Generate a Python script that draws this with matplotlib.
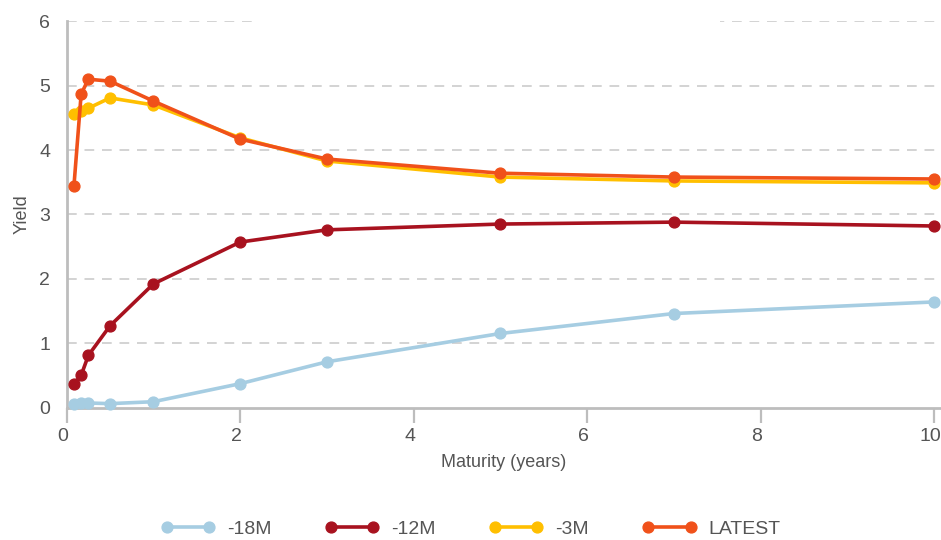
import matplotlib
matplotlib.use("Agg")
import matplotlib.pyplot as plt
from matplotlib.patches import Rectangle
from matplotlib.transforms import ScaledTranslation

plt.rcParams['font.family'] = ['Liberation Sans', 'DejaVu Sans']

# Maturities in years: 1M, 2M, 3M, 6M, 1Y, 2Y, 3Y, 5Y, 7Y, 10Y
maturity = [1/12, 2/12, 3/12, 6/12, 1, 2, 3, 5, 7, 10]

yield_18m = [0.05, 0.07, 0.07, 0.06, 0.09, 0.37, 0.71, 1.15, 1.46, 1.64]
yield_12m = [0.36, 0.50, 0.81, 1.27, 1.92, 2.57, 2.76, 2.85, 2.88, 2.82]
yield_3m = [4.56, 4.60, 4.65, 4.81, 4.70, 4.19, 3.83, 3.58, 3.52, 3.49]
yield_latest = [3.44, 4.87, 5.10, 5.07, 4.76, 4.17, 3.86, 3.64, 3.58, 3.55]

series_labels = ['-18M', '-12M', '-3M', 'LATEST']
series_colors = ['#a6cde2', '#a8121f', '#ffbf00', '#f0511a']

x_ticks = [0, 2, 4, 6, 8, 10]
y_ticks = [0, 1, 2, 3, 4, 5, 6]

W, H = 941, 540
fig = plt.figure(figsize=(W / 100, H / 100), dpi=100)
left_px, top_px, bottom_px = 66.7, 21.3, 407.5
ax = fig.add_axes([left_px / W, 1 - bottom_px / H, 1 - left_px / W,
                   (bottom_px - top_px) / H])

x_right = 10 + (W - 934) / 86.73
ax.set_xlim(0, x_right)
ax.set_ylim(0, 6)

for vals, lab, col in zip([yield_18m, yield_12m, yield_3m, yield_latest],
                          series_labels, series_colors):
    ax.plot(maturity, vals, color=col, lw=2.6, marker='o', ms=7.8,
            label=lab, clip_on=False, zorder=3, solid_capstyle='round')

# dashed horizontal gridlines
for yv in y_ticks[1:]:
    ax.axhline(yv, color='#d3d3d3', lw=1.4, ls=(0, (5, 4)), zorder=1)
ax.add_patch(Rectangle((0.215, 0.985), 0.532, 0.03, transform=ax.transAxes,
                       facecolor='white', edgecolor='none', zorder=2,
                       clip_on=False))

for side in ['top', 'right']:
    ax.spines[side].set_visible(False)
for side in ['left', 'bottom']:
    ax.spines[side].set_color('#bdbdbd')
    ax.spines[side].set_linewidth(2)

ax.set_xticks(x_ticks)
ax.set_yticks(y_ticks)
ax.tick_params(axis='x', length=11, width=1.6, color='#bdbdbd',
               labelsize=14, labelcolor='#555555', pad=4)
ax.tick_params(axis='y', length=0, labelsize=14, labelcolor='#555555', pad=12)
shift = ScaledTranslation(-4 / 100, 0, fig.dpi_scale_trans)
for lbl in ax.get_xticklabels():
    lbl.set_transform(lbl.get_transform() + shift)

ax.set_xlabel('Maturity (years)', fontsize=13, color='#555555', labelpad=6)
ax.set_ylabel('Yield', fontsize=13, color='#555555', labelpad=6)

leg = fig.legend(loc='center', bbox_to_anchor=(0.5, 1 - 529 / H), ncol=4,
                 frameon=False, fontsize=14, numpoints=2, handlelength=2.8,
                 columnspacing=2.75, handletextpad=0.6)
for t in leg.get_texts():
    t.set_color('#555555')

fig.savefig('out.png', dpi=100)
